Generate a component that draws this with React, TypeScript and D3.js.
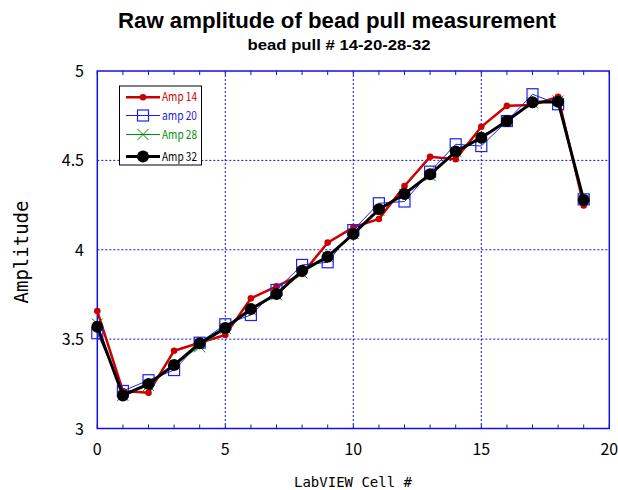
import React from "react";
import * as d3 from "d3";

const cells = [0, 1, 2, 3, 4, 5, 6, 7, 8, 9, 10, 11, 12, 13, 14, 15, 16, 17, 18, 19];
const amp14 = [3.657, 3.21, 3.2, 3.435, 3.48, 3.523, 3.728, 3.795, 3.864, 4.04, 4.125, 4.172, 4.357, 4.52, 4.506, 4.688, 4.805, 4.81, 4.856, 4.248];
const amp20 = [3.533, 3.21, 3.27, 3.327, 3.48, 3.583, 3.635, 3.775, 3.915, 3.93, 4.11, 4.26, 4.27, 4.437, 4.59, 4.58, 4.72, 4.87, 4.814, 4.282];
const amp28 = [3.585, 3.185, 3.24, 3.36, 3.457, 3.56, 3.662, 3.748, 3.87, 3.96, 4.09, 4.22, 4.31, 4.415, 4.55, 4.628, 4.718, 4.822, 4.832, 4.28];
const amp32 = [3.569, 3.185, 3.249, 3.355, 3.477, 3.562, 3.668, 3.752, 3.883, 3.961, 4.088, 4.226, 4.312, 4.422, 4.549, 4.627, 4.72, 4.825, 4.828, 4.278];
const xTicks = [0, 5, 10, 15, 20];
const yTicks = [3, 3.5, 4, 4.5, 5];
const yTickLabels = ["3", "3.5", "4", "4.5", "5"];
const seriesNames = ["Amp 14", "amp 20", "Amp 28", "Amp 32"];

const W = 618, H = 490;
const L = 97.3, R = 609.3, T = 71, B = 428.5;
const AXIS = "#1010e0";
const RED = "#cc0000", BLUE = "#2020ee", GREEN = "#009000", BLACK = "#000000";

export default function App() {
  const x = d3.scaleLinear().domain([0, 20]).range([L, R]);
  const y = d3.scaleLinear().domain([3, 5]).range([B, T]);
  const line = (vals: number[]) =>
    d3.line<number>().x((_, i) => x(cells[i])).y((v) => y(v))(vals) || "";
  const minor = d3.range(0, 21, 1);
  const monoFont = "'DejaVu Sans Mono', monospace";
  const tickFont = "'Noto Sans CJK JP', 'DejaVu Sans', sans-serif";

  const square = (cx: number, cy: number, s: number, key: any) => (
    <rect key={key} x={cx - s / 2} y={cy - s / 2} width={s} height={s} fill="none" stroke={BLUE} strokeWidth={1.2} />
  );
  const cross = (cx: number, cy: number, s: number, key: any) => (
    <path key={key} d={`M${cx - s / 2},${cy - s / 2}L${cx + s / 2},${cy + s / 2}M${cx - s / 2},${cy + s / 2}L${cx + s / 2},${cy - s / 2}`} stroke={GREEN} strokeWidth={1} fill="none" />
  );

  const legendX0 = 126, legendX1 = 160;
  const legendYs = [97.3, 115.5, 134.5, 156.5];
  const legendColors = [RED, BLUE, GREEN, BLACK];

  return (
    <svg width={W} height={H} style={{ position: "absolute", left: 0, top: 0, background: "#fff" }}>
      <rect x={0} y={0} width={W} height={H} fill="#fff" />
      <text x={337} y={28} textAnchor="middle" fontFamily="'Liberation Sans', Arial, sans-serif" fontWeight="bold" fontSize={22} textLength={438} lengthAdjust="spacingAndGlyphs">Raw amplitude of bead pull measurement</text>
      <text x={339} y={50} textAnchor="middle" fontFamily="'Liberation Sans', Arial, sans-serif" fontWeight="bold" fontSize={15} textLength={183} lengthAdjust="spacingAndGlyphs">bead pull # 14-20-28-32</text>

      {/* grid */}
      {xTicks.slice(1, -1).map((t) => (
        <line key={"gx" + t} x1={x(t)} x2={x(t)} y1={T} y2={B} stroke={AXIS} strokeWidth={1} strokeDasharray="2,2" />
      ))}
      {yTicks.slice(1, -1).map((t) => (
        <line key={"gy" + t} x1={L} x2={R} y1={y(t)} y2={y(t)} stroke={AXIS} strokeWidth={1} strokeDasharray="2,2" />
      ))}
      {/* minor ticks */}
      {minor.map((t) => (
        <g key={"mt" + t}>
          <line x1={x(t)} x2={x(t)} y1={B} y2={B - 4} stroke={AXIS} strokeWidth={1} />
          <line x1={x(t)} x2={x(t)} y1={T} y2={T + 4} stroke={AXIS} strokeWidth={1} />
        </g>
      ))}
      <rect x={L} y={T} width={R - L} height={B - T} fill="none" stroke={AXIS} strokeWidth={1.5} />

      {/* tick labels */}
      {xTicks.map((t) => (
        <text key={"xl" + t} x={x(t)} y={455} textAnchor="middle" fontFamily={tickFont} fontSize={16}>{t}</text>
      ))}
      {yTicks.map((t, i) => (
        <text key={"yl" + t} x={84} y={y(t) + 6} textAnchor="end" fontFamily={tickFont} fontSize={16}>{yTickLabels[i]}</text>
      ))}
      <text x={353} y={487} textAnchor="middle" fontFamily={monoFont} fontSize={14}>LabVIEW Cell #</text>
      <text transform="translate(28,252) rotate(-90)" textAnchor="middle" fontFamily={monoFont} fontSize={19}>Amplitude</text>

      {/* series */}
      <path d={line(amp14)} fill="none" stroke={RED} strokeWidth={2.5} />
      {amp14.map((v, i) => <circle key={"r" + i} cx={x(cells[i])} cy={y(v)} r={3.3} fill={RED} />)}
      <path d={line(amp20)} fill="none" stroke={BLUE} strokeWidth={1} />
      {amp20.map((v, i) => square(x(cells[i]), y(v), 11, "b" + i))}
      <path d={line(amp28)} fill="none" stroke={GREEN} strokeWidth={1} />
      {amp28.map((v, i) => cross(x(cells[i]), y(v), 11, "g" + i))}
      <path d={line(amp32)} fill="none" stroke={BLACK} strokeWidth={3} />
      {amp32.map((v, i) => <circle key={"k" + i} cx={x(cells[i])} cy={y(v)} r={6} fill={BLACK} />)}

      {/* legend */}
      <rect x={119.5} y={86} width={82} height={79} fill="#fff" stroke="#000" strokeWidth={1} />
      {seriesNames.map((name, i) => {
        const ly = legendYs[i];
        const c = legendColors[i];
        const sw = [2.5, 1, 1, 3][i];
        return (
          <g key={"lg" + i}>
            <line x1={legendX0} x2={legendX1} y1={ly} y2={ly} stroke={c} strokeWidth={sw} />
            {i === 0 && <circle cx={143} cy={ly} r={3.3} fill={RED} />}
            {i === 1 && square(143, ly, 11, "ls")}
            {i === 2 && cross(143, ly, 11, "lc")}
            {i === 3 && <circle cx={143} cy={ly} r={6} fill={BLACK} />}
            <text x={162} y={ly + 4} fontFamily={tickFont} fontSize={11.5} fill={c} textLength={35} lengthAdjust="spacingAndGlyphs">{name}</text>
          </g>
        );
      })}
    </svg>
  );
}
